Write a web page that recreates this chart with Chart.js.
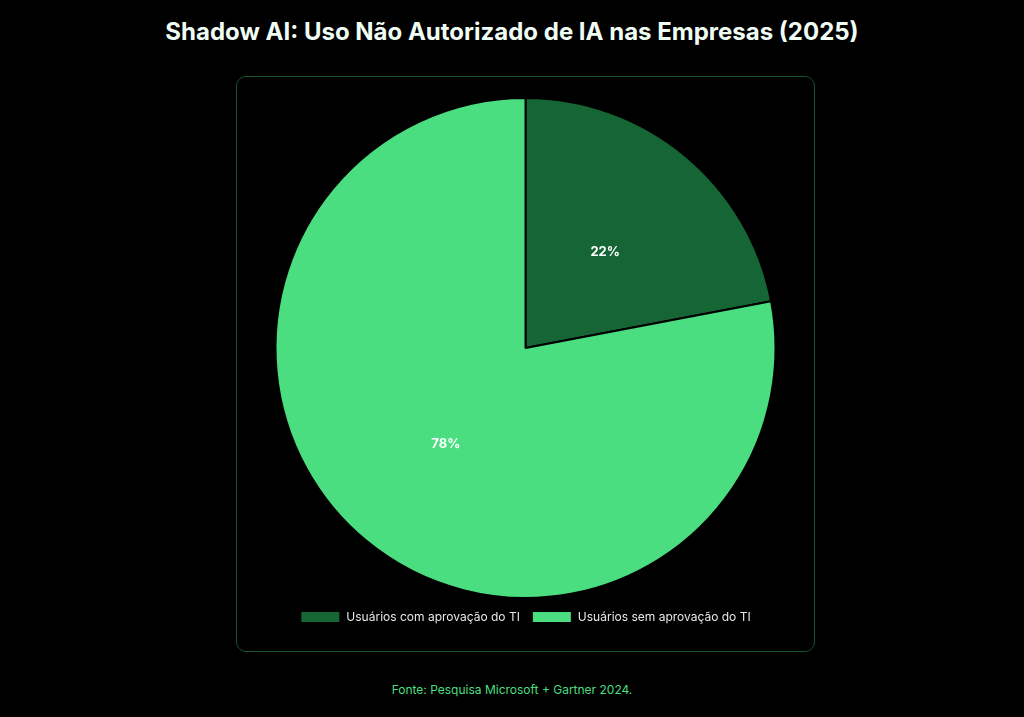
<!DOCTYPE html>
<html><head><meta charset="utf-8">
<script src="https://cdn.jsdelivr.net/npm/chart.js@4"></script>
<style>
html,body{margin:0;background:#000;width:1024px;height:717px;overflow:hidden;font-family:Inter,"Noto Sans",sans-serif;}
h1{position:absolute;left:0;top:17px;width:1024px;margin:0;text-align:center;color:#f0fdf4;font-size:24px;font-weight:700;}
#box{position:absolute;left:236px;top:76px;width:577px;height:574px;border:1px solid #14532d;border-radius:10px;}
#wrap{position:absolute;left:20px;top:20px;width:537px;height:536px;}
#src{position:absolute;left:0;top:682px;width:1024px;text-align:center;color:#4ade80;font-size:12px;}
</style></head><body>
<h1>Shadow AI: Uso Não Autorizado de IA nas Empresas (2025)</h1>
<div id="box"><div id="wrap"><canvas id="c"></canvas></div></div>
<div id="src">Fonte: Pesquisa Microsoft + Gartner 2024.</div>
<script>
const categories=["Usuários com aprovação do TI","Usuários sem aprovação do TI"];
const values=[22,78];
const colors=["#166534","#4ade80"];
const labelPlugin={id:'lbl',afterDatasetsDraw(ch){const ctx=ch.ctx;const meta=ch.getDatasetMeta(0);ctx.save();ctx.fillStyle='#fff';ctx.font='bold 13px Inter, sans-serif';ctx.textAlign='center';ctx.textBaseline='middle';meta.data.forEach((a,i)=>{const p=a.tooltipPosition();ctx.fillText(values[i]+'%',p.x,p.y);});ctx.restore();}};
new Chart(document.getElementById('c'),{type:'pie',data:{labels:categories,datasets:[{data:values,backgroundColor:colors,borderColor:'#000',borderWidth:2}]},
options:{responsive:true,maintainAspectRatio:false,animation:false,layout:{padding:{top:0}},
plugins:{legend:{position:'bottom',labels:{color:'#e5e7eb',font:{size:12,family:'Inter'},boxWidth:40,boxHeight:12,padding:12}},tooltip:{enabled:false}}},plugins:[labelPlugin]});
</script></body></html>
